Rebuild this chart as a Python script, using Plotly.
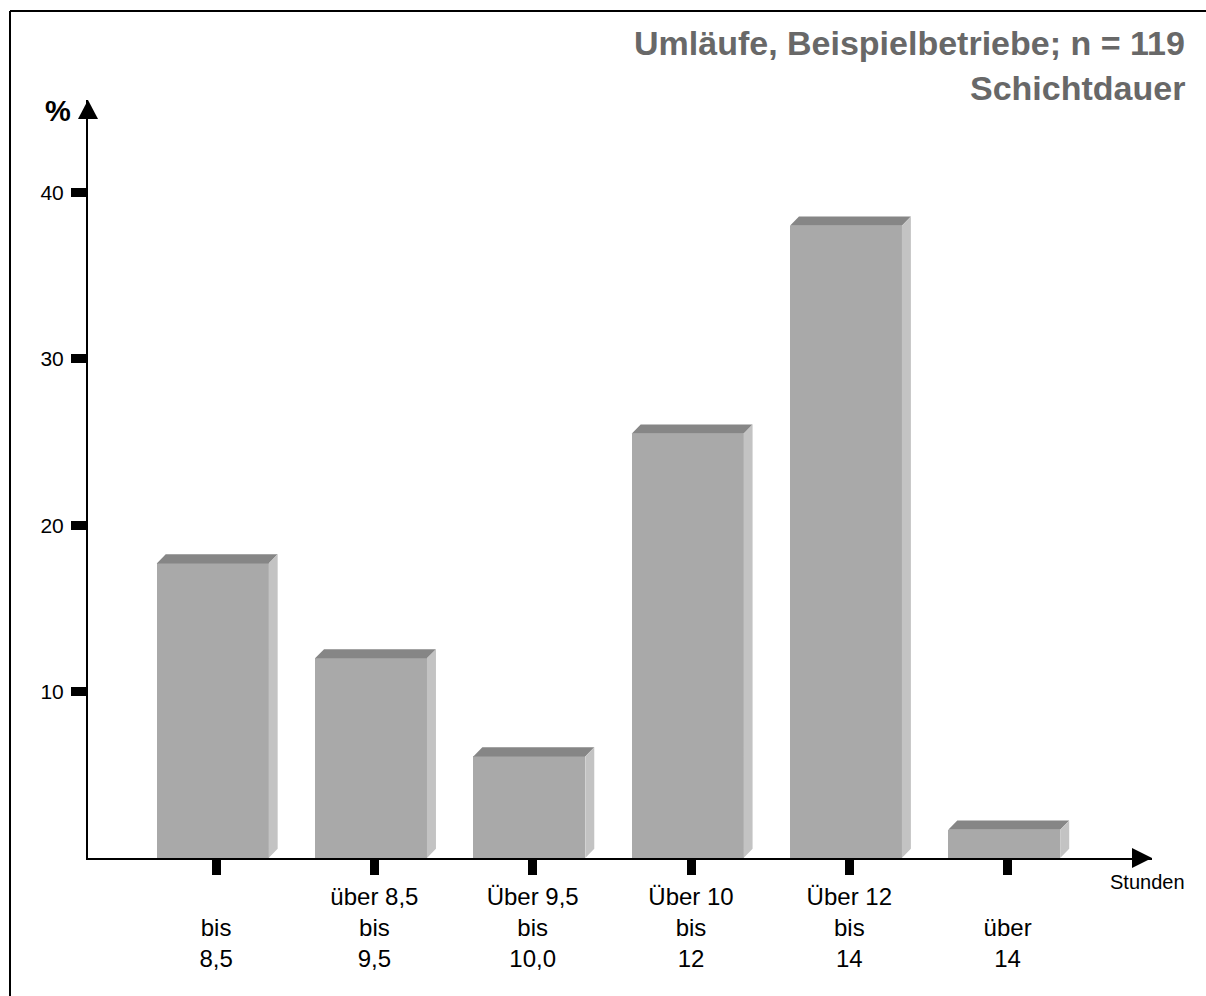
import plotly.graph_objects as go

# Shift duration classes (hours) and share of circulations in percent
class_labels = [
    " <br>bis<br>8,5",
    "über 8,5<br>bis<br>9,5",
    "Über 9,5<br>bis<br>10,0",
    "Über 10<br>bis<br>12",
    "Über 12<br>bis<br>14",
    " <br>über<br>14",
]
share_pct = [17.7, 12.0, 6.1, 25.5, 38.0, 1.7]
y_tick_values = [10, 20, 30, 40]

FONT = "Liberation Sans, Arial, sans-serif"
FRONT = "#a9a9a9"
TOP = "#868686"
SIDE = "#c3c3c3"

pos = list(range(len(share_pct)))
bar_off = -0.375
bar_w = 0.707
depth_x = 0.057   # depth of the pseudo-3D extrusion along x (category units)
depth_y = 0.55    # depth along y (percent units)

fig = go.Figure()

fig.add_trace(go.Bar(
    x=pos, y=share_pct, width=bar_w, offset=bar_off,
    marker=dict(color=FRONT, line=dict(width=0)),
    hoverinfo="skip", showlegend=False,
))

# top and side faces of each extruded bar
top_x, top_y, side_x, side_y = [], [], [], []
for p, v in zip(pos, share_pct):
    x0 = p + bar_off
    x1 = x0 + bar_w
    top_x += [x0, x0 + depth_x, x1 + depth_x, x1, x0, None]
    top_y += [v, v + depth_y, v + depth_y, v, v, None]
    side_x += [x1, x1 + depth_x, x1 + depth_x, x1, x1, None]
    side_y += [0, depth_y, v + depth_y, v, 0, None]

fig.add_trace(go.Scatter(
    x=top_x, y=top_y, mode="lines", fill="toself", fillcolor=TOP,
    line=dict(width=0, color=TOP), hoverinfo="skip", showlegend=False,
))
fig.add_trace(go.Scatter(
    x=side_x, y=side_y, mode="lines", fill="toself", fillcolor=SIDE,
    line=dict(width=0, color=SIDE), hoverinfo="skip", showlegend=False,
))

L, R, T, B = 88, 54, 100, 138
W, H = 1206, 996
pw, ph = W - L - R, H - T - B


def px_x(px):
    return (px - L) / pw


def px_y(py):
    return (H - B - py) / ph


fig.update_layout(
    width=W, height=H,
    margin=dict(l=L, r=R, t=T, b=B, pad=0),
    paper_bgcolor="white", plot_bgcolor="white",
    font=dict(family=FONT, color="black"),
    bargap=0,
    xaxis=dict(
        range=[-0.809, 5.912], showgrid=False, zeroline=False,
        showline=True, linecolor="black", linewidth=2,
        tickmode="array", tickvals=pos, ticktext=class_labels,
        ticks="outside", ticklen=15, tickwidth=9, tickcolor="black",
        tickfont=dict(size=24, family=FONT, color="black"),
        ticklabelstandoff=1, layer="below traces",
    ),
    yaxis=dict(
        range=[0, 45.55], showgrid=False, zeroline=False,
        showline=True, linecolor="black", linewidth=2,
        tickmode="array", tickvals=y_tick_values,
        ticks="outside", ticklen=15, tickwidth=9, tickcolor="black",
        tickfont=dict(size=21, family=FONT, color="black"),
        ticklabelstandoff=3,
    ),
    shapes=[
        # arrow heads at the axis ends
        dict(type="path", xref="paper", yref="paper", xsizemode="pixel", ysizemode="pixel",
             xanchor=1, yanchor=0, path="M 0 0 L -20 10 L -20 -10 Z",
             fillcolor="black", line=dict(width=0)),
        dict(type="path", xref="paper", yref="paper", xsizemode="pixel", ysizemode="pixel",
             xanchor=0, yanchor=1, path="M 0 0 L -10 -19 L 10 -19 Z",
             fillcolor="black", line=dict(width=0)),
        # frame lines
        dict(type="line", xref="paper", yref="paper",
             x0=px_x(10), x1=px_x(10), y0=px_y(11), y1=px_y(1000),
             line=dict(color="black", width=2)),
        dict(type="line", xref="paper", yref="paper",
             x0=px_x(10), x1=px_x(1210), y0=px_y(11), y1=px_y(11),
             line=dict(color="black", width=2)),
    ],
    annotations=[
        dict(text="<b>Umläufe, Beispielbetriebe; n = 119</b>", xref="paper", yref="paper",
             x=px_x(1187), y=px_y(43), xanchor="right", yanchor="middle", showarrow=False,
             font=dict(size=34, color="#686868", family=FONT)),
        dict(text="<b>Schichtdauer</b>", xref="paper", yref="paper",
             x=px_x(1187), y=px_y(88), xanchor="right", yanchor="middle", showarrow=False,
             font=dict(size=34, color="#686868", family=FONT)),
        dict(text="<b>%</b>", xref="paper", yref="paper",
             x=px_x(58), y=px_y(111), xanchor="center", yanchor="middle", showarrow=False,
             font=dict(size=29, color="black", family=FONT)),
        dict(text="Stunden", xref="paper", yref="paper",
             x=px_x(1147), y=px_y(882), xanchor="center", yanchor="middle", showarrow=False,
             font=dict(size=20, color="black", family=FONT)),
    ],
)

fig.write_html("out.html")
